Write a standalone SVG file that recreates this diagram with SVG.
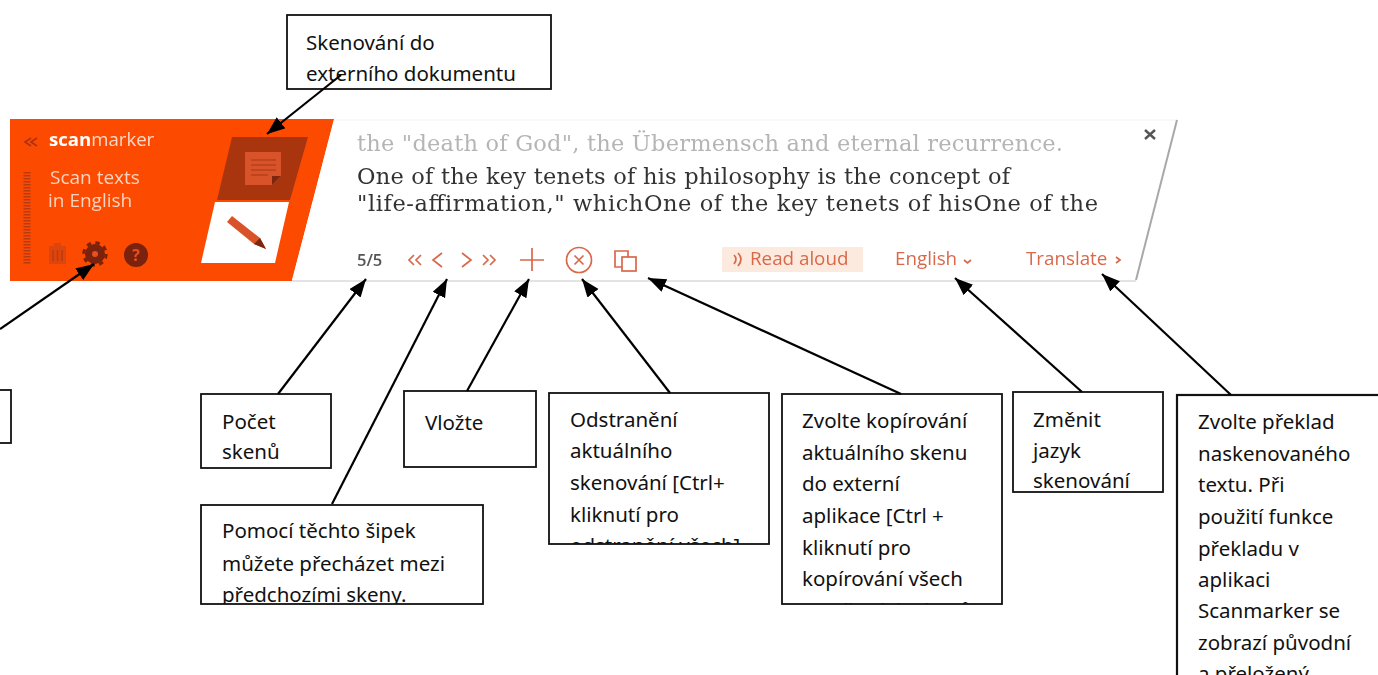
<svg xmlns="http://www.w3.org/2000/svg" width="1378" height="675" viewBox="0 0 1378 675">
<style>
.box{fill:#fff;stroke:#111;stroke-width:1.8}
.t{font-family:"Noto Sans","Open Sans",sans-serif;font-size:20.5px;fill:#111}
.c{fill:none;stroke:#000;stroke-width:2.2;marker-end:url(#a)}
.ser{font-family:"DejaVu Serif","Liberation Serif",serif;font-size:22.5px}
.u{font-family:"Open Sans","Noto Sans",sans-serif}
.o{fill:none;stroke:#d9684a;stroke-width:1.7}
.a{font-size:18.8px;fill:#d9684a}
</style>
<defs>
<marker id="a" markerUnits="userSpaceOnUse" markerWidth="20" markerHeight="16" refX="18" refY="7" orient="auto"><path d="M0 0L18 7L0 14z" fill="#000"/></marker>
<filter id="b" x="-2%" y="-5%" width="104%" height="110%"><feGaussianBlur stdDeviation="0.55"/></filter>
<clipPath id="c1"><rect x="549" y="393" width="220" height="151"/></clipPath>
<clipPath id="c2"><rect x="782" y="394" width="220" height="210"/></clipPath>
<clipPath id="c3"><rect x="201" y="505" width="282" height="99"/></clipPath>
</defs>
<g id="toolbar" filter="url(#b)">
<path d="M10 119H334L292 281H10z" fill="#fc4c02"/>
<path d="M334 120H1177L1136 280H292z" fill="#fff"/>
<path d="M334 120H1177" stroke="#f1f1f1" stroke-width="1" fill="none"/>
<path d="M1177 120L1136 280" fill="none" stroke="#a8a8a8" stroke-width="2"/>
<path d="M292 281H1136" stroke="#c8c8c8" stroke-width="1" fill="none"/>
<path d="M232 137H308L290 200H217z" fill="#a83610"/>
<path d="M215 202H289L275 263H201z" fill="#fff"/>
<path d="M245 152H281V176L272 185H245z" fill="#d9532a"/>
<path d="M272 185V176H281z" fill="#7b2508"/>
<path d="M251 160H276M251 165H276M251 170H276M251 175H268" stroke="#a83610" stroke-width="1.2" fill="none"/>
<path d="M227 222L232 216L260 238L266 249L254 244z" fill="#d9532a"/>
<path d="M260 238L266 249L254 244z" fill="#7b2508"/>
<path d="M31 138L25 142L31 146M37 138L31 142L37 146" fill="none" stroke="#b03010" stroke-width="1.8"/>
<text x="49" y="146" class="u" font-size="18.6" fill="#fff"><tspan font-weight="700">scan</tspan><tspan fill="#fbd7c8">marker</tspan></text>
<text x="50" y="184" class="u" font-size="19" fill="#fbd3bf">Scan texts</text>
<text x="48" y="207" class="u" font-size="19" fill="#fbd3bf">in English</text>
<path d="M27 172V265" stroke="#b83a10" stroke-width="7" stroke-dasharray="1.5 1.5" fill="none"/>
<path d="M49 246H54V243H61V246H66V264H49z" fill="#dc4510"/>
<path d="M53 250V261M57.5 250V261M62 250V261" stroke="#b83a10" stroke-width="1.2" fill="none"/>
<circle cx="95" cy="254" r="10" fill="#7a2208"/><circle cx="95" cy="254" r="11.2" fill="none" stroke="#7a2208" stroke-width="3" stroke-dasharray="4.4 4.4"/><circle cx="95" cy="254" r="3" fill="#e85020"/>
<circle cx="136" cy="255" r="12" fill="#7a2208"/><text x="136" y="261" text-anchor="middle" class="u" font-size="16" font-weight="700" fill="#e85020">?</text>
<text x="357" y="151" class="ser" fill="#b5b5b5" textLength="706" lengthAdjust="spacing">the "death of God", the Übermensch and eternal recurrence.</text>
<text x="357" y="184" class="ser" fill="#333" textLength="653" lengthAdjust="spacing">One of the key tenets of his philosophy is the concept of</text>
<text x="357" y="211" class="ser" fill="#333" textLength="741" lengthAdjust="spacing">"life-affirmation," whichOne of the key tenets of hisOne of the</text>
<path d="M1145 130L1155 139M1155 130L1145 139" stroke="#555" stroke-width="2.4" fill="none"/>
<text x="357" y="266" class="u" font-size="16.5" font-weight="600" fill="#555">5/5</text>
<path class="o" d="M414 255L409 260L414 265M421 255L416 260L421 265M442 253L433 260L442 267M462 253L471 260L462 267M483 255L488 260L483 265M490 255L495 260L490 265"/>
<path class="o" d="M520 260H544M532 248V271"/>
<circle cx="579" cy="260" r="12.5" class="o"/><path class="o" d="M574.5 255.500L583.500 264.500M583.500 255.500L574.500 264.500"/>
<path class="o" d="M622 267H615V251H628V257"/><rect x="622" y="257" width="14" height="14" class="o"/>
<rect x="722" y="247" width="141" height="25" fill="#fdeade"/>
<path class="o" d="M734 255Q738 259 734 264M738 253Q744 259 738 266"/>
<text x="750" y="265" class="u a">Read aloud</text>
<text x="895" y="265" class="u a">English</text>
<path class="o" d="M964 260L967.5 263L971 260"/>
<text x="1026" y="265" class="u a">Translate</text>
<path class="o" d="M1116 257L1120 260L1116 263"/>
</g>
<g id="n-top"><rect class="box" x="287" y="15" width="264" height="74"/><text class="t"><tspan x="306" y="50">Skenování do</tspan><tspan x="306" y="81">externího dokumentu</tspan></text></g>
<g id="n-left"><rect class="box" x="-20" y="390" width="31" height="53"/></g>
<g id="n-pocet"><rect class="box" x="201" y="394" width="130" height="74"/><text class="t"><tspan x="222" y="429">Počet</tspan><tspan x="222" y="459">skenů</tspan></text></g>
<g id="n-vlozte"><rect class="box" x="404" y="391" width="132" height="76"/><text class="t" x="425" y="430">Vložte</text></g>
<g id="n-sipky"><rect class="box" x="201" y="505" width="282" height="99"/><text class="t" clip-path="url(#c3)"><tspan x="222" y="538">Pomocí těchto šipek</tspan><tspan x="222" y="571">můžete přecházet mezi</tspan><tspan x="222" y="602">předchozími skeny.</tspan></text></g>
<g id="n-odstr"><rect class="box" x="549" y="393" width="220" height="151"/><text class="t" clip-path="url(#c1)"><tspan x="570" y="427">Odstranění</tspan><tspan x="570" y="458">aktuálního</tspan><tspan x="570" y="490">skenování [Ctrl+</tspan><tspan x="570" y="522">kliknutí pro</tspan><tspan x="570" y="553">odstranění všech]</tspan></text></g>
<g id="n-kopir"><rect class="box" x="782" y="394" width="220" height="210"/><text class="t" clip-path="url(#c2)"><tspan x="802" y="428">Zvolte kopírování</tspan><tspan x="802" y="460">aktuálního skenu</tspan><tspan x="802" y="491">do externí</tspan><tspan x="802" y="523">aplikace [Ctrl +</tspan><tspan x="802" y="555">kliknutí pro</tspan><tspan x="802" y="586">kopírování všech</tspan><tspan x="802" y="618">otevřených skenů]</tspan></text></g>
<g id="n-jazyk"><rect class="box" x="1013" y="392" width="150" height="100"/><text class="t"><tspan x="1033" y="427">Změnit</tspan><tspan x="1033" y="458">jazyk</tspan><tspan x="1033" y="488">skenování</tspan></text></g>
<g id="n-prekl"><rect class="box" x="1177" y="395" width="220" height="300" style="stroke-width:2.2"/><text class="t"><tspan x="1198" y="429">Zvolte překlad</tspan><tspan x="1198" y="461">naskenovaného</tspan><tspan x="1198" y="492">textu. Při</tspan><tspan x="1198" y="524">použití funkce</tspan><tspan x="1198" y="556">překladu v</tspan><tspan x="1198" y="587">aplikaci</tspan><tspan x="1198" y="618">Scanmarker se</tspan><tspan x="1198" y="650">zobrazí původní</tspan><tspan x="1198" y="681">a přeložený</tspan></text></g>
<g id="connectors">
<path class="c" d="M341 75L267 134"/>
<path class="c" d="M0 329L94 264"/>
<path class="c" d="M278 394L366 279"/>
<path class="c" d="M332 504L447 279"/>
<path class="c" d="M467 391L529 279"/>
<path class="c" d="M670 393L582 279"/>
<path class="c" d="M901 394L648 278"/>
<path class="c" d="M1082 392L955 278"/>
<path class="c" d="M1231 395L1102 274"/>
</g>
</svg>
